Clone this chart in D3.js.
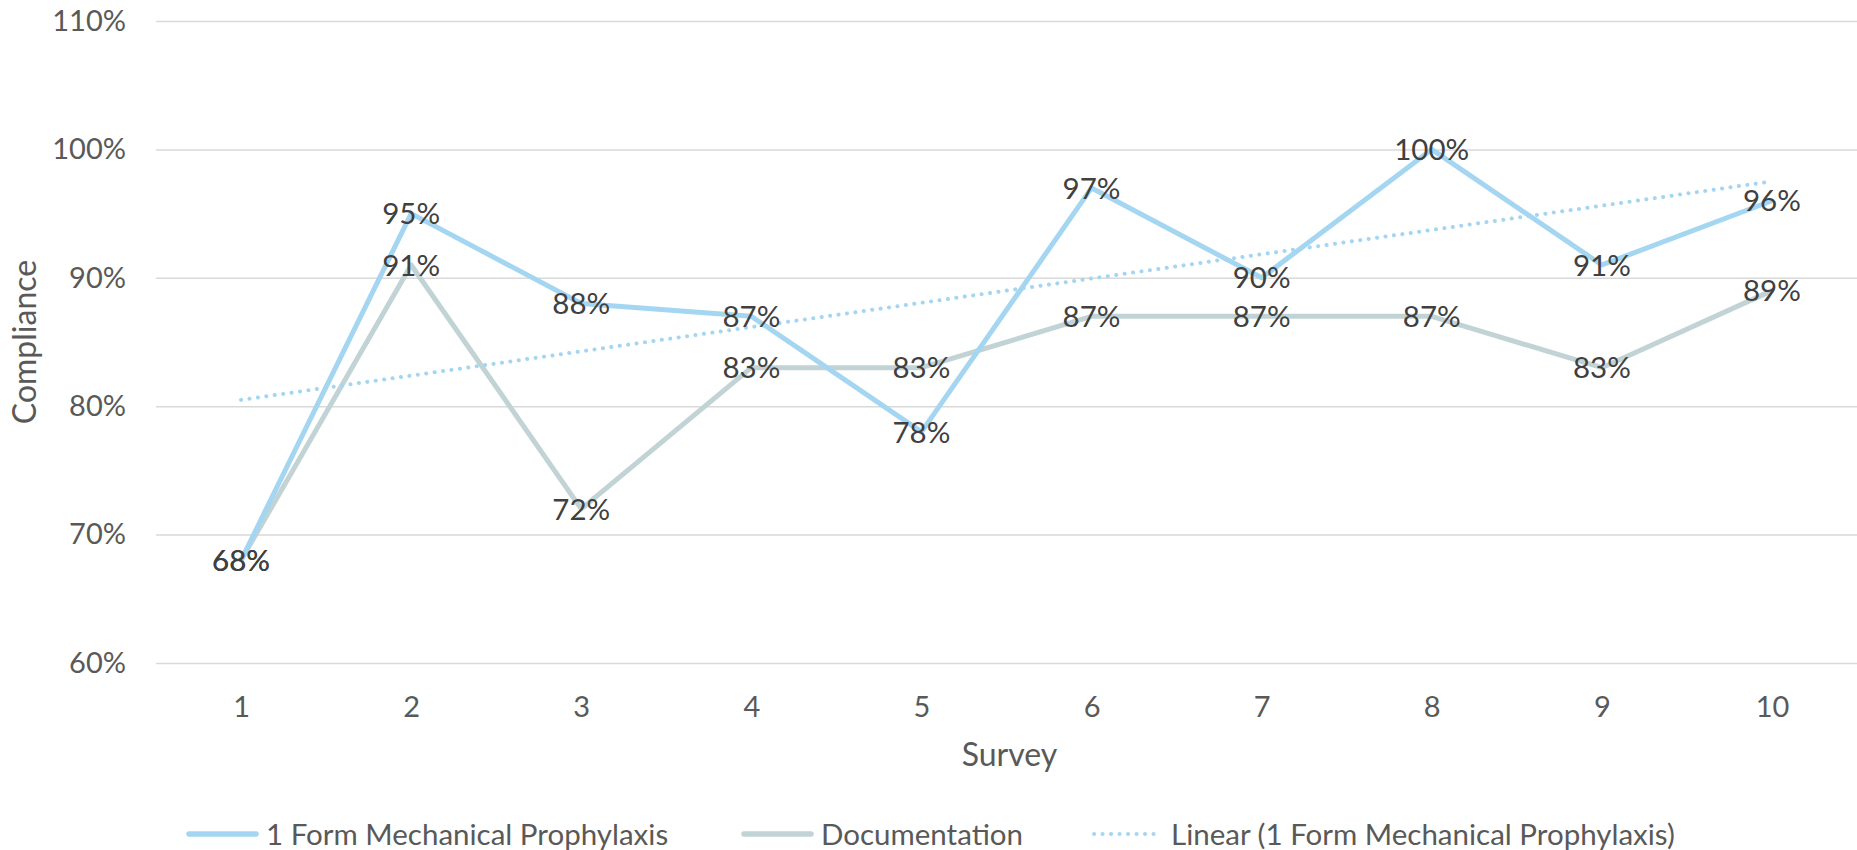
<!DOCTYPE html>
<html>
<head>
<meta charset="utf-8">
<script src="https://cdnjs.cloudflare.com/ajax/libs/d3/7.8.5/d3.min.js"></script>
<style>
  body { margin: 0; background: #fff; }
  svg text { font-family: Lato, "Open Sans", sans-serif; }
</style>
</head>
<body>
<div id="chart"></div>
<script>
// survey numbers
let surveys = [1, 2, 3, 4, 5, 6, 7, 8, 9, 10];
// compliance, percent
let mechanical = [68, 95, 88, 87, 78, 97, 90, 100, 91, 96];
let documentation = [68, 91, 72, 83, 83, 87, 87, 87, 83, 89];
let yTicks = [60, 70, 80, 90, 100, 110];
let seriesNames = ["1 Form Mechanical Prophylaxis", "Documentation", "Linear (1 Form Mechanical Prophylaxis)"];

let width = 1857,
    height = 850,
    margin = { top: 21, right: 0, bottom: 187, left: 156 };

let svg = d3.select("#chart").append("svg")
    .attr("width", width)
    .attr("height", height);

let x = d3.scalePoint()
    .domain(surveys)
    .range([margin.left, width - margin.right])
    .padding(0.5);

let y = d3.scaleLinear()
    .domain([60, 110])
    .range([height - margin.bottom, margin.top]);

// gridlines + y labels
let yAxis = svg.append("g")
    .attr("transform", "translate(" + margin.left + ",0)")
    .call(d3.axisLeft(y).tickValues(yTicks)
        .tickSize(-(width - margin.left - margin.right))
        .tickPadding(30)
        .tickFormat(function (d) { return d + "%"; }));
yAxis.select(".domain").remove();
yAxis.selectAll(".tick line").attr("stroke", "#d9d9d9").attr("stroke-width", 1.5);
yAxis.selectAll(".tick text")
    .attr("fill", "#595959")
    .style("font-size", "29px");

// x labels
let xAxis = svg.append("g")
    .attr("transform", "translate(0," + (height - margin.bottom) + ")")
    .call(d3.axisBottom(x).tickSize(0).tickPadding(33));
xAxis.select(".domain").remove();
xAxis.selectAll(".tick text")
    .attr("fill", "#595959")
    .style("font-size", "29px");

// axis titles
svg.append("text")
    .attr("transform", "translate(36," + (margin.top + height - margin.bottom) / 2 + ") rotate(-90)")
    .attr("text-anchor", "middle")
    .attr("fill", "#595959")
    .style("font-size", "32px")
    .text("Compliance");

svg.append("text")
    .attr("x", (margin.left + width - margin.right) / 2 + 3)
    .attr("y", 766)
    .attr("text-anchor", "middle")
    .attr("fill", "#595959")
    .style("font-size", "32px")
    .text("Survey");

// trend line (least squares on the mechanical series)
let mx = d3.mean(surveys),
    my = d3.mean(mechanical);
let slope = d3.sum(surveys, function (s, i) { return (s - mx) * (mechanical[i] - my); }) /
    d3.sum(surveys, function (s) { return (s - mx) * (s - mx); });
let intercept = my - slope * mx;

let line = d3.line()
    .x(function (d) { return x(d[0]); })
    .y(function (d) { return y(d[1]); });

let colors = ["#a4d6f2", "#c2d3d6", "#a4d6f2"];

svg.append("path")
    .datum(surveys.map(function (s, i) { return [s, documentation[i]]; }))
    .attr("d", line)
    .attr("fill", "none")
    .attr("stroke", colors[1])
    .attr("stroke-width", 5)
    .attr("stroke-linejoin", "round");

svg.append("path")
    .datum(surveys.map(function (s, i) { return [s, mechanical[i]]; }))
    .attr("d", line)
    .attr("fill", "none")
    .attr("stroke", colors[0])
    .attr("stroke-width", 5)
    .attr("stroke-linejoin", "round");

let first = surveys[0], last = surveys[surveys.length - 1];
svg.append("path")
    .datum([[first, intercept + slope * first], [last, intercept + slope * last]])
    .attr("d", line)
    .attr("fill", "none")
    .attr("stroke", colors[2])
    .attr("stroke-width", 4)
    .attr("stroke-linecap", "round")
    .attr("stroke-dasharray", "0.1 8.4");

// data labels, centred on points
function labels(values) {
    svg.append("g").selectAll("text")
        .data(values)
        .enter()
        .append("text")
        .attr("x", function (d, i) { return x(surveys[i]); })
        .attr("y", function (d) { return y(d); })
        .attr("dy", "0.36em")
        .attr("text-anchor", "middle")
        .attr("fill", "#404040")
        .style("font-size", "29.5px")
        .text(function (d) { return d + "%"; });
}
labels(mechanical);
labels(documentation);

// legend
let legendX = [187, 742, 1092];
let legend = svg.append("g").attr("class", "legend");
seriesNames.forEach(function (name, i) {
    let g = legend.append("g").attr("transform", "translate(" + legendX[i] + ",834)");
    g.append("line")
        .attr("x1", 2).attr("x2", 69)
        .attr("stroke", colors[i])
        .attr("stroke-width", i === 2 ? 4 : 5.5)
        .attr("stroke-linecap", "round")
        .attr("stroke-dasharray", i === 2 ? "0.1 8.4" : null);
    g.append("text")
        .attr("x", 79)
        .attr("dy", "0.36em")
        .attr("fill", "#595959")
        .style("font-size", "29.5px")
        .text(name);
});
</script>
</body>
</html>
